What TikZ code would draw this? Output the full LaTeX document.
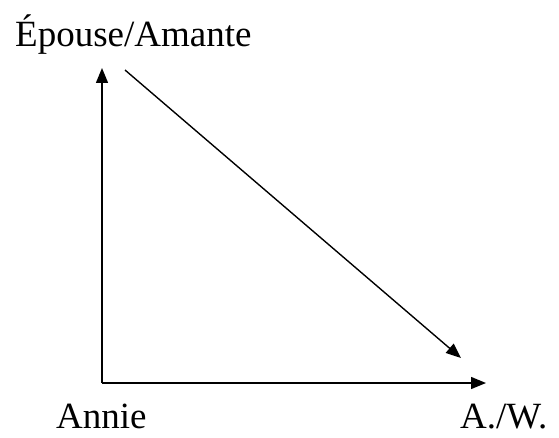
\documentclass[tikz,border=0pt]{standalone}
\usepackage{fontspec}
\setmainfont{Liberation Serif}
\usetikzlibrary{arrows.meta,positioning,calc}

\tikzset{
	arr/.style={line width=1.4pt, -{Triangle[length=15pt,width=12pt]}},
	lbl/.style={inner sep=0pt, anchor=base west, text depth=0pt, font=\fontsize{37}{44}\selectfont}
}

\begin{document}
\begin{tikzpicture}[x=1pt,y=1pt]
	\useasboundingbox (0,0) rectangle (559,437);
	\node[lbl] (spouse) at (15,390) {Épouse/Amante};
	\node[lbl] (annie) at (56,9) {Annie};
	\node[lbl] (aw) at (460,9) {A./W.};
	\coordinate (origin) at (102,54);
	\coordinate (top) at (102,369);
	\coordinate (right) at (486,54);
	\coordinate (from) at (125,367);
	\coordinate (to) at (461,79);
	\draw[arr] (origin) -- (top);
	\draw[arr] (origin) -- (right);
	\draw[arr] (from) -- (to);
\end{tikzpicture}
\end{document}
